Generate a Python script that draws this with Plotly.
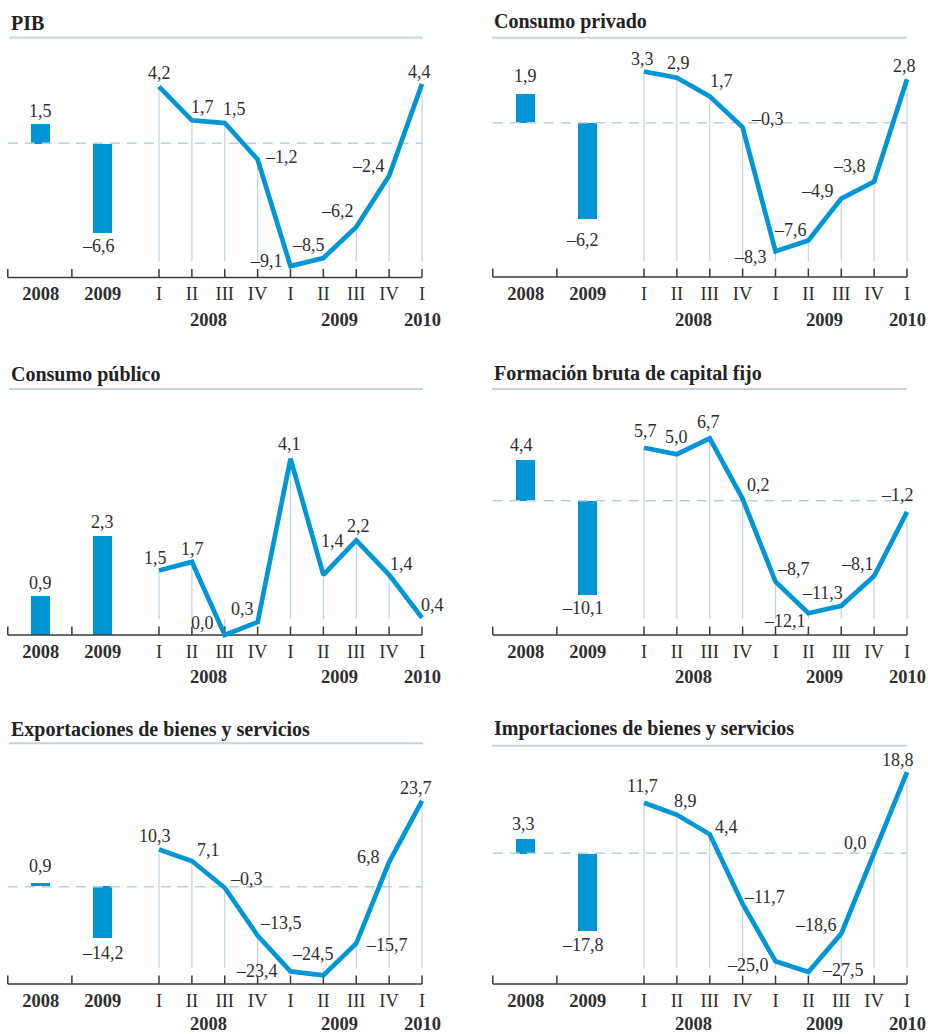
import plotly.graph_objects as go

W, H = 928, 1034
BLUE = "#0096d6"
GRID = "#bcd5e2"
DASH = "#b9cfdc"
AXIS = "#3a3a3a"
TXT = "#2e2e2e"
FONT = "Liberation Serif"
LBL = 18      # data label size
TCK = 18.5    # tick / year label size

# ---------------- data ----------------
titles = ["PIB", "Consumo privado", "Consumo público",
          "Formación bruta de capital fijo",
          "Exportaciones de bienes y servicios",
          "Importaciones de bienes y servicios"]

annual_labels = ["2008", "2009"]
quarter_labels = ["I", "II", "III", "IV", "I", "II", "III", "IV", "I"]
year_labels = ["2008", "2009", "2010"]

pib_annual = [1.5, -6.6]
pib_quarterly = [4.2, 1.7, 1.5, -1.2, -9.1, -8.5, -6.2, -2.4, 4.4]

cpriv_annual = [1.9, -6.2]
cpriv_quarterly = [3.3, 2.9, 1.7, -0.3, -8.3, -7.6, -4.9, -3.8, 2.8]

cpub_annual = [0.9, 2.3]
cpub_quarterly = [1.5, 1.7, 0.0, 0.3, 4.1, 1.4, 2.2, 1.4, 0.4]

fbcf_annual = [4.4, -10.1]
fbcf_quarterly = [5.7, 5.0, 6.7, 0.2, -8.7, -12.1, -11.3, -8.1, -1.2]

exp_annual = [0.9, -14.2]
exp_quarterly = [10.3, 7.1, -0.3, -13.5, -23.4, -24.5, -15.7, 6.8, 23.7]

imp_annual = [3.3, -17.8]
imp_quarterly = [11.7, 8.9, 4.4, -11.7, -25.0, -27.5, -18.6, 0.0, 18.8]

# ---------------- layout ----------------
annual_x = [-3.6, -1.71]
quarter_x = list(range(9))
year_label_x = [1.5, 5.5, 8]
axis_x = [-4.6, 8]
tick_x = [-4.6, -2.65] + quarter_x
STEP = 32.875
cols = [dict(q0=159, left=0, right=446, title_x=9, ul=(9, 423)),
        dict(q0=644, left=470, right=928, title_x=492, ul=(492, 907))]

panels = [
    dict(annual=pib_annual, quarterly=pib_quarterly, col=0, zero=143.3, axis=277.5, scale=13.5,
         ul_y=37.5, title_y=22.5, year_dy=-42.5,
         a_off=[(0, 12), (-4, -14)],
         q_off=[(0, 14), (11, 13), (10, 14), (24, 2), (-24, 5), (-15, 13), (-19, 16), (-21, 10), (-3, 12)]),
    dict(annual=cpriv_annual, quarterly=cpriv_quarterly, col=1, zero=122.7, axis=277, scale=15.5,
         ul_y=37.7, title_y=21.7, year_dy=-42.5,
         a_off=[(0, 17), (-5, -21)],
         q_off=[(-2, 13), (2, 15), (12, 15), (25, 8), (-25, -6), (-18, 11), (-24, 8), (-25, 16), (-3, 13)]),
    dict(annual=cpub_annual, quarterly=cpub_quarterly, col=0, zero=635, axis=635, scale=43,
         ul_y=389, title_y=375, year_dy=-42,
         a_off=[(0, 13), (0, 14)],
         q_off=[(-4, 13), (1, 13), (-22, 12), (-15, 13), (-1, 15), (9, 34), (2, 14), (12, 11), (10, 13)]),
    dict(annual=fbcf_annual, quarterly=fbcf_quarterly, col=1, zero=500.7, axis=635, scale=9.3,
         ul_y=389, title_y=374, year_dy=-42,
         a_off=[(-4, 15), (-5, -13)],
         q_off=[(1, 17), (0, 17), (-1, 16), (16, 14), (18, 13), (-23, -8), (-19, 13), (-17, 12), (-10, 17)]),
    dict(annual=exp_annual, quarterly=exp_quarterly, col=0, zero=886.7, axis=984, scale=3.62,
         ul_y=743.3, title_y=729, year_dy=-40,
         a_off=[(0, 17), (0, -15)],
         q_off=[(-4, 13), (17, 11), (22, 9), (23, 13), (-34, 0), (-10, 21), (31, -1), (-21, 5), (-6, 13)]),
    dict(annual=imp_annual, quarterly=imp_quarterly, col=1, zero=853.3, axis=984, scale=4.32,
         ul_y=745.7, title_y=728, year_dy=-40,
         a_off=[(-2, 15), (-5, -15)],
         q_off=[(-2, 17), (9, 14), (17, 7), (22, 7), (-28, -4), (35, 2), (-25, 9), (-19, 10), (-9, 12)]),
]


def fmt(v):
    s = f"{abs(v):.1f}".replace(".", ",")
    return ("–" + s) if v < 0 else s


fig = go.Figure()
annotations = []
shapes = []
layout_axes = {}

for i, p in enumerate(panels, start=1):
    c = cols[p["col"]]
    xname = "x" if i == 1 else f"x{i}"
    yname = "y" if i == 1 else f"y{i}"
    xkey = "xaxis" if i == 1 else f"xaxis{i}"
    ykey = "yaxis" if i == 1 else f"yaxis{i}"
    sc, zero, axis = p["scale"], p["zero"], p["axis"]
    top_px, bot_px = p["ul_y"] + 3, axis + 3

    def val(px):
        return (zero - px) / sc

    axis_val = val(axis)
    vline_end = val(axis - 16)
    tick_top = val(axis - 8.5)

    layout_axes[xkey] = dict(
        domain=[c["left"] / W, c["right"] / W],
        range=[(c["left"] - c["q0"]) / STEP, (c["right"] - c["q0"]) / STEP],
        anchor=yname, showgrid=False, zeroline=False, showline=False, ticks="",
        tickvals=annual_x + quarter_x,
        ticktext=[f"<b>{t}</b>" for t in annual_labels] + quarter_labels,
        tickfont=dict(family=FONT, size=TCK, color=TXT), fixedrange=True)
    layout_axes[ykey] = dict(
        domain=[1 - bot_px / H, 1 - top_px / H],
        range=[val(bot_px), val(top_px)],
        anchor=xname, showgrid=False, zeroline=False, showline=False,
        showticklabels=False, ticks="", fixedrange=True)

    # vertical guide lines from each quarterly point down to axis
    vx, vy = [], []
    for qx, v in zip(quarter_x, p["quarterly"]):
        vx += [qx, qx, None]
        vy += [v, vline_end, None]
    fig.add_trace(go.Scatter(x=vx, y=vy, mode="lines", line=dict(color=GRID, width=1.2),
                             hoverinfo="skip", showlegend=False, xaxis=xname, yaxis=yname))
    # dashed zero line (only when zero is above the axis)
    if zero < axis - 1:
        fig.add_trace(go.Scatter(x=axis_x, y=[0, 0], mode="lines",
                                 line=dict(color=DASH, width=1.5, dash="10px,7px"),
                                 hoverinfo="skip", showlegend=False, xaxis=xname, yaxis=yname))
    # annual bars
    fig.add_trace(go.Bar(x=annual_x, y=p["annual"], width=19 / STEP, marker=dict(color=BLUE, line=dict(width=0)),
                         hoverinfo="skip", showlegend=False, xaxis=xname, yaxis=yname))
    # axis line and ticks
    ax, ay = list(axis_x) + [None], [axis_val, axis_val, None]
    for t in tick_x:
        ax += [t, t, None]
        ay += [axis_val, tick_top, None]
    fig.add_trace(go.Scatter(x=ax, y=ay, mode="lines", line=dict(color=AXIS, width=1.5),
                             hoverinfo="skip", showlegend=False, xaxis=xname, yaxis=yname))
    # quarterly line
    fig.add_trace(go.Scatter(x=quarter_x, y=p["quarterly"], mode="lines",
                             line=dict(color=BLUE, width=4.7), hoverinfo="skip",
                             showlegend=False, xaxis=xname, yaxis=yname))

    # data labels
    for xv, v, (dx, dy) in zip(annual_x, p["annual"], p["a_off"]):
        annotations.append(dict(x=xv, y=v, xref=xname, yref=yname, text=fmt(v), showarrow=False,
                                xshift=dx, yshift=dy, xanchor="center", yanchor="middle",
                                font=dict(family=FONT, size=LBL, color=TXT)))
    for xv, v, (dx, dy) in zip(quarter_x, p["quarterly"], p["q_off"]):
        annotations.append(dict(x=xv, y=v, xref=xname, yref=yname, text=fmt(v), showarrow=False,
                                xshift=dx, yshift=dy, xanchor="center", yanchor="middle",
                                font=dict(family=FONT, size=LBL, color=TXT)))
    # year labels under quarters
    for xv, t in zip(year_label_x, year_labels):
        annotations.append(dict(x=xv, y=axis_val, xref=xname, yref=yname, text=f"<b>{t}</b>",
                                showarrow=False, yshift=p["year_dy"], xanchor="center", yanchor="middle",
                                font=dict(family=FONT, size=TCK, color=TXT)))
    # title and underline
    annotations.append(dict(x=c["title_x"] / W, y=1 - p["title_y"] / H, xref="paper", yref="paper",
                            text=f"<b>{titles[i - 1]}</b>", showarrow=False, xanchor="left",
                            yanchor="middle", font=dict(family=FONT, size=20, color="#222222")))
    shapes.append(dict(type="line", xref="paper", yref="paper",
                       x0=c["ul"][0] / W, x1=c["ul"][1] / W,
                       y0=1 - p["ul_y"] / H, y1=1 - p["ul_y"] / H,
                       line=dict(color="#c3d5e0", width=2)))

fig.update_layout(width=W, height=H, margin=dict(l=0, r=0, t=0, b=0),
                  paper_bgcolor="white", plot_bgcolor="rgba(0,0,0,0)",
                  showlegend=False, bargap=0, annotations=annotations, shapes=shapes,
                  font=dict(family=FONT, color=TXT), **layout_axes)

fig.write_html("out.html")
